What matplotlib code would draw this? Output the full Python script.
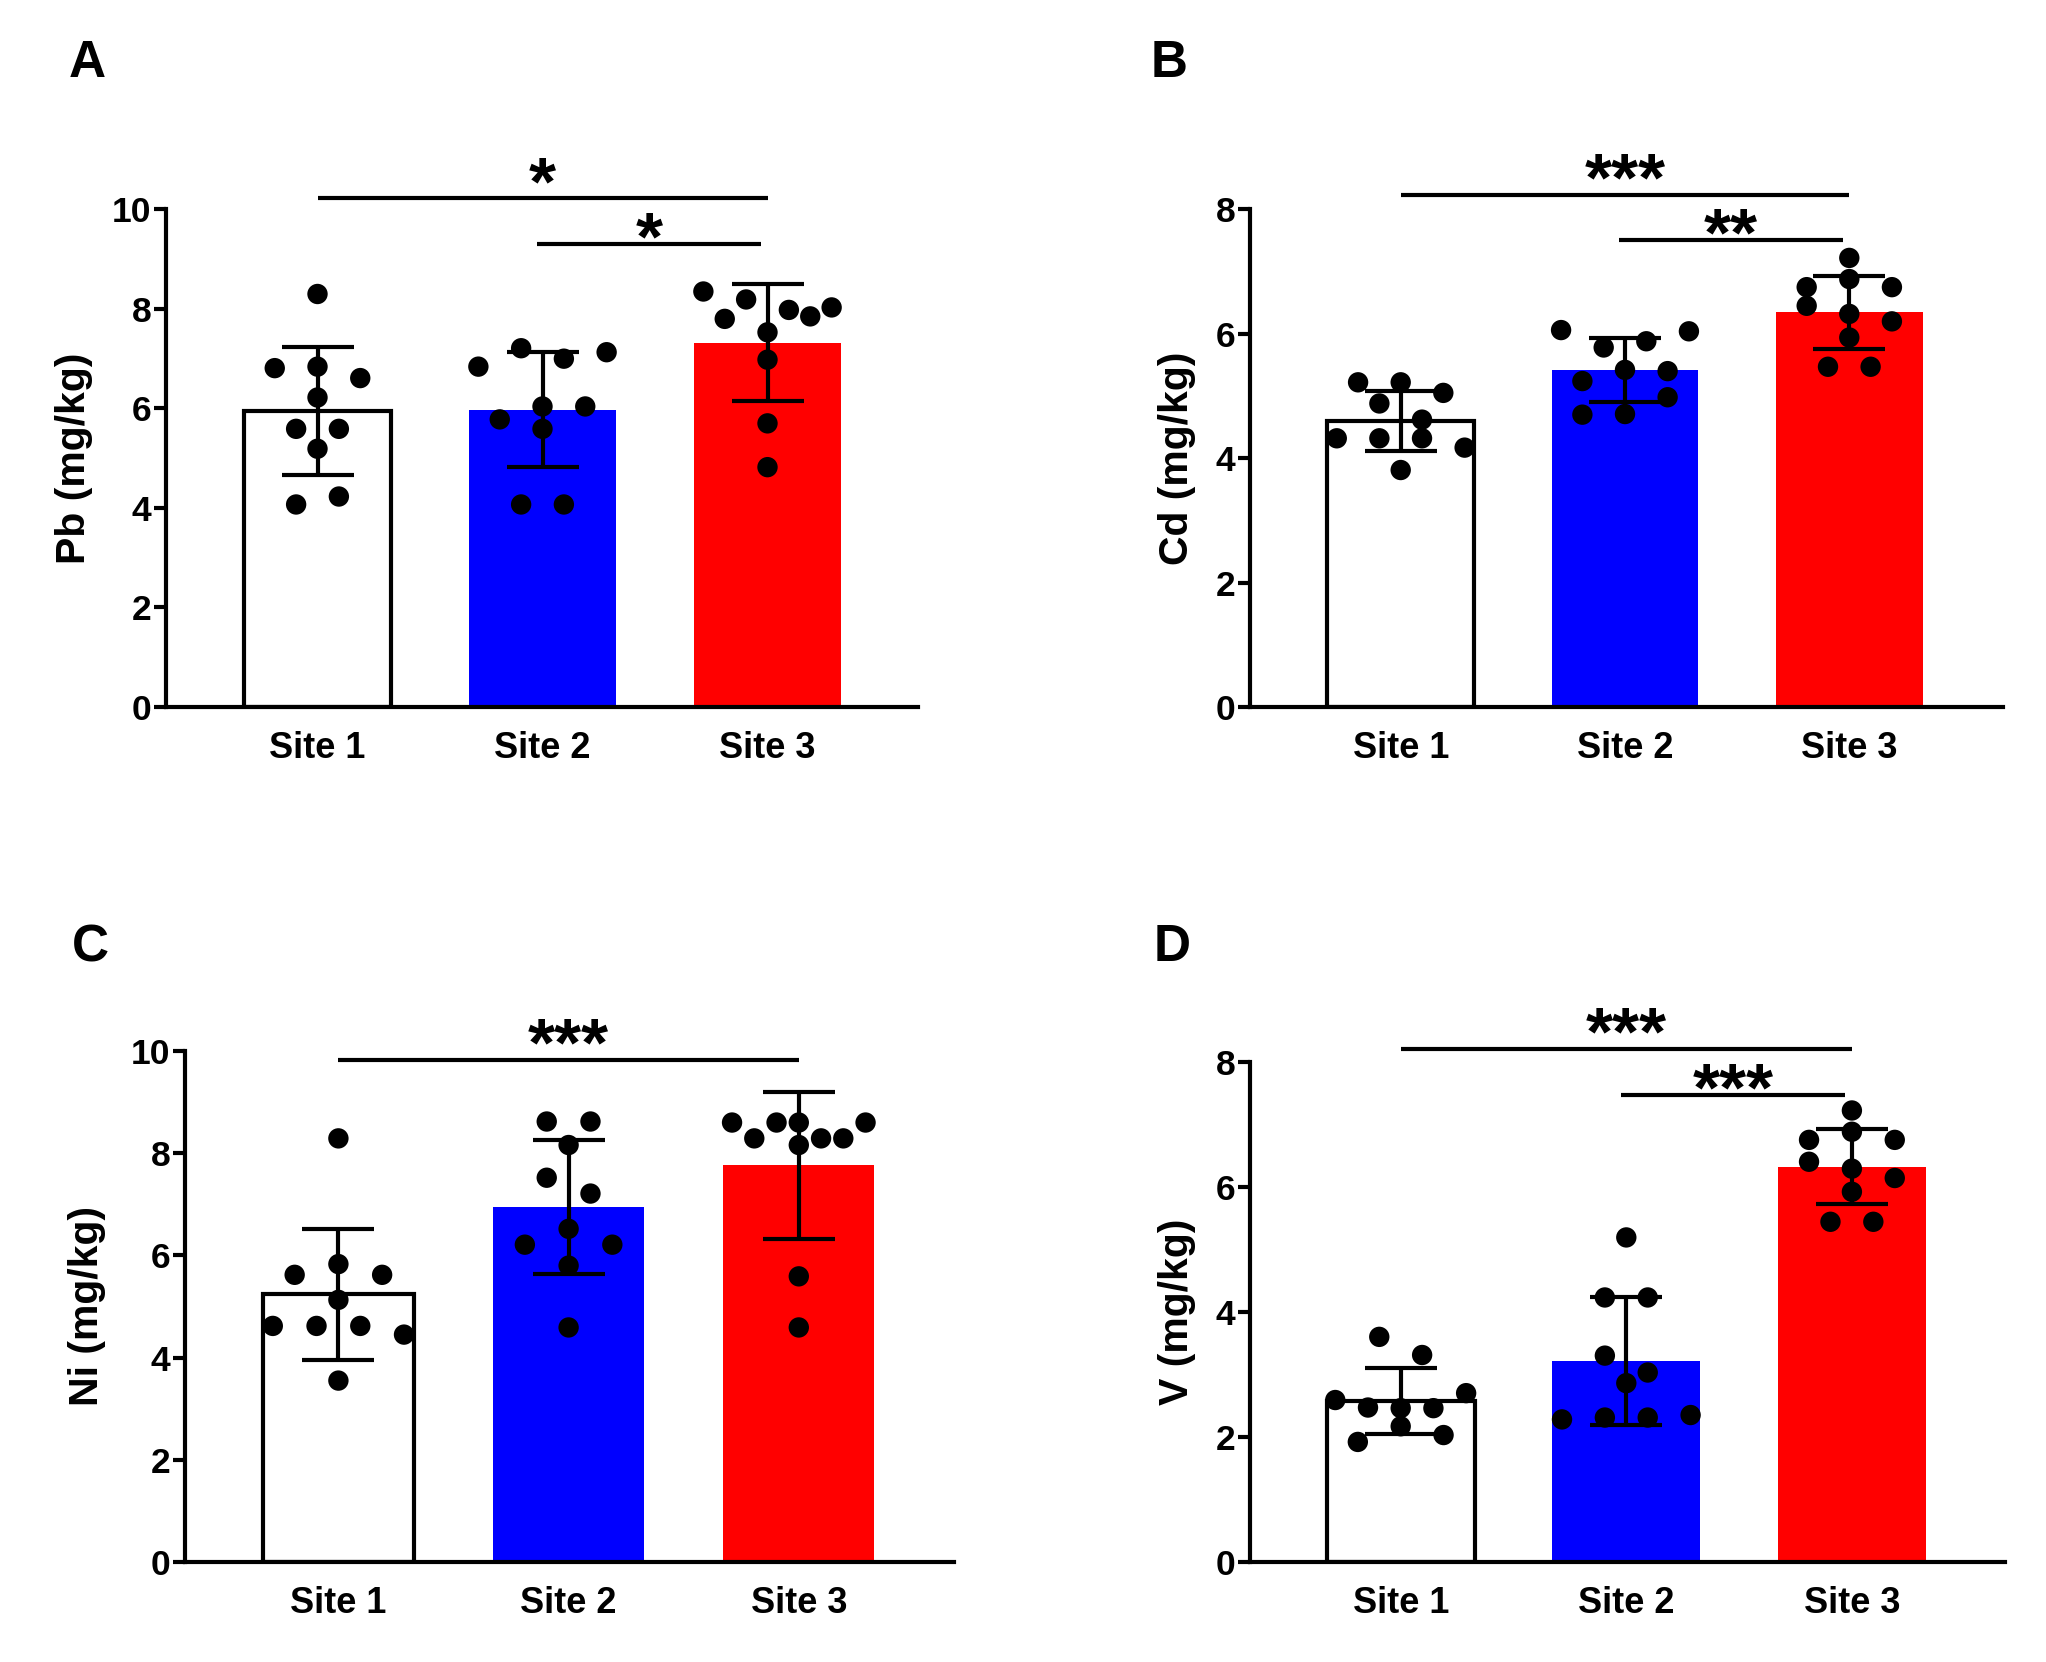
import numpy as np
import matplotlib
matplotlib.use('Agg')
import matplotlib.pyplot as plt

plt.rcParams['font.family'] = ['Liberation Sans', 'DejaVu Sans']
plt.rcParams['font.weight'] = 'bold'

# ---------------- data ----------------
sites = ['Site 1', 'Site 2', 'Site 3']
bar_colors = ['#FFFFFF', '#0000FF', '#FF0000']

pb_site1 = [8.30, 6.81, 6.84, 6.61, 6.22, 5.59, 5.59, 5.19, 4.07, 4.23]
pb_site2 = [6.84, 7.21, 7.00, 7.13, 5.78, 6.04, 6.04, 5.59, 4.07, 4.07]
pb_site3 = [8.35, 8.19, 7.98, 8.03, 7.80, 7.53, 7.85, 6.98, 5.70, 4.82]

cd_site1 = [5.22, 5.22, 5.05, 4.88, 4.62, 4.32, 4.32, 4.32, 4.17, 3.81]
cd_site2 = [6.06, 5.78, 5.88, 6.04, 5.24, 5.42, 5.40, 4.70, 4.71, 4.98]
cd_site3 = [7.22, 6.75, 6.88, 6.75, 6.45, 6.32, 6.20, 5.94, 5.47, 5.47]

ni_site1 = [8.29, 5.62, 5.83, 5.62, 5.13, 4.62, 4.62, 4.62, 4.45, 3.55]
ni_site2 = [8.62, 8.62, 8.16, 7.52, 7.21, 6.21, 6.52, 6.21, 5.80, 4.59]
ni_site3 = [8.60, 8.29, 8.60, 8.60, 8.29, 8.29, 8.60, 8.16, 5.59, 4.59]

v_site1 = [3.60, 3.31, 2.59, 2.47, 2.46, 2.46, 2.70, 1.92, 2.17, 2.03]
v_site2 = [5.19, 4.23, 4.23, 3.30, 3.03, 2.86, 2.28, 2.31, 2.31, 2.35]
v_site3 = [7.22, 6.75, 6.88, 6.75, 6.40, 6.29, 6.14, 5.92, 5.44, 5.44]

panel_letters = ['A', 'B', 'C', 'D']
y_labels = ['Pb (mg/kg)', 'Cd (mg/kg)', 'Ni (mg/kg)', 'V (mg/kg)']
y_max = [10, 8, 10, 8]
y_ticks = [[0, 2, 4, 6, 8, 10], [0, 2, 4, 6, 8], [0, 2, 4, 6, 8, 10], [0, 2, 4, 6, 8]]

# significance comparisons: (from group, to group, height, label)
sig_pb = [(0, 2, 10.22, '*'), (1, 2, 9.31, '*')]
sig_cd = [(0, 2, 8.23, '***'), (1, 2, 7.51, '**')]
sig_ni = [(0, 2, 9.82, '***')]
sig_v = [(0, 2, 8.20, '***'), (1, 2, 7.47, '***')]

panels_data = [
    [pb_site1, pb_site2, pb_site3],
    [cd_site1, cd_site2, cd_site3],
    [ni_site1, ni_site2, ni_site3],
    [v_site1, v_site2, v_site3],
]
panels_sig = [sig_pb, sig_cd, sig_ni, sig_v]

# ---------------- layout (pixels) ----------------
W, H = 2046, 1662
DPI = 100
# (left spine x, right end x, y of zero, y of top tick, x of first category center, category spacing)
axes_px = [
    (166, 918, 707, 209.4, 317.5, 225.0),
    (1250, 2003, 707, 209.4, 1400.7, 224.3),
    (185, 954, 1562, 1051.0, 338.4, 230.2),
    (1250, 2004.6, 1562, 1061.7, 1400.7, 225.6),
]
ylabel_dx_px = [-73, -54, -79, -54]
letter_px = [(69, 77), (1151, 77), (72, 961), (1154, 961)]

LW = 3.0
fig = plt.figure(figsize=(W / DPI, H / DPI), dpi=DPI)


def swarm_offsets(values, ax, diam_px=19.5, step=0.19, max_span=0.58):
    vals = np.asarray(values, float)
    p0 = ax.transData.transform((0, 0))[1]
    p1 = ax.transData.transform((0, 1))[1]
    thr = diam_px / (p1 - p0)
    order = np.argsort(-vals, kind='stable')
    rows = []
    for i in order:
        if rows and vals[rows[-1][0]] - vals[i] <= thr + 1e-9:
            rows[-1].append(i)
        else:
            rows.append([i])
    offs = np.zeros(len(vals))
    for r in rows:
        r = sorted(r)
        n = len(r)
        s = step if n < 2 else min(step, max_span / (n - 1))
        for k, i in enumerate(r):
            offs[i] = (k - (n - 1) / 2) * s
    return offs


for p in range(4):
    lx, rx, y0, yt, c0, sp = axes_px[p]
    rect = [lx / W, 1 - y0 / H, (rx - lx) / W, (y0 - yt) / H]
    ax = fig.add_axes(rect)
    xlim = ((lx - c0) / sp, (rx - c0) / sp)
    ax.set_xlim(*xlim)
    ax.set_ylim(0, y_max[p])

    groups = panels_data[p]
    xs = np.arange(len(sites))
    means = [np.mean(g) for g in groups]
    sds = [np.std(g, ddof=1) for g in groups]

    for i in range(len(sites)):
        if i == 0:
            ax.bar(xs[i], means[i], width=0.655, color=bar_colors[i],
                   edgecolor='black', linewidth=LW, zorder=1)
        else:
            ax.bar(xs[i], means[i], width=0.655, color=bar_colors[i],
                   edgecolor='none', linewidth=0, zorder=1)
        offs = swarm_offsets(groups[i], ax)
        ax.scatter(xs[i] + offs, groups[i], s=215, color='black',
                   edgecolors='none', zorder=3, clip_on=False)
    ax.errorbar(xs, means, yerr=sds, fmt='none', ecolor='black',
                elinewidth=LW, capsize=26, capthick=LW, zorder=4)

    for (g0, g1, yy, lab) in panels_sig[p]:
        xa = xs[g0] if g0 == 0 else xs[g0] - 0.025
        xb = xs[g1] if g0 == 0 else xs[g1] - 0.03
        ax.plot([xa, xb], [yy, yy], color='black', lw=LW, clip_on=False,
                solid_capstyle='butt')
        off = -4 if g0 == 0 else -11
        ax.annotate(lab, xy=((xa + xb) / 2, yy), xytext=(0, off),
                    textcoords='offset points', ha='center', va='baseline',
                    fontsize=50, fontweight='bold', annotation_clip=False)

    ax.set_xticks(xs)
    ax.set_xticklabels(sites, fontsize=26, fontweight='bold')
    ax.set_yticks(y_ticks[p])
    ax.set_yticklabels([str(t) for t in y_ticks[p]], fontsize=25.5, fontweight='bold')
    ax.tick_params(axis='x', length=0, pad=17)
    ax.tick_params(axis='y', length=8.6, width=LW, pad=2, direction='out')
    for s in ['top', 'right']:
        ax.spines[s].set_visible(False)
    for s in ['left', 'bottom']:
        ax.spines[s].set_linewidth(LW)
    ax.set_ylabel(y_labels[p], fontsize=29.5, fontweight='bold')
    ax.yaxis.set_label_coords(ylabel_dx_px[p] / (rx - lx), 0.5)

    fx, fy = letter_px[p]
    fig.text(fx / W, 1 - fy / H, panel_letters[p], fontsize=37,
             fontweight='bold', ha='left', va='baseline')

fig.savefig('out.png', dpi=DPI, facecolor='white')
